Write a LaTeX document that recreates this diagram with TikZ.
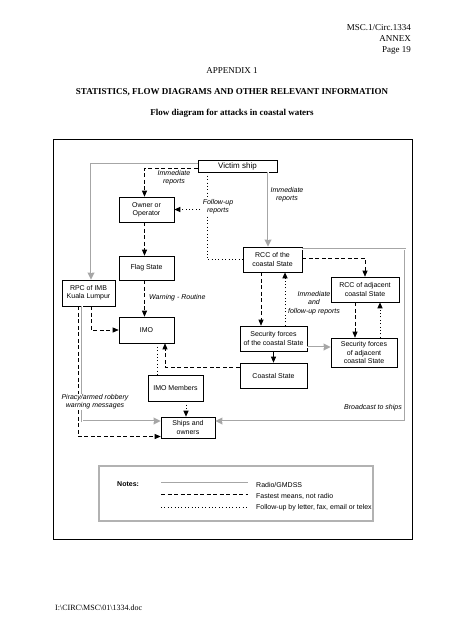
\documentclass[tikz,border=0pt]{standalone}
\usepackage{fontspec}
\setmainfont{Liberation Serif}
\newfontfamily\arialf{Liberation Sans}
\usetikzlibrary{arrows.meta}

\begin{document}
\begin{tikzpicture}[x=1pt,y=-1pt,
    caixa/.style={draw,line width=0.6pt,fill=white,align=center,inner sep=1pt,font=\arialf\fontsize{7}{8.2}\selectfont},
    rotulo/.style={align=center,inner sep=1pt,font=\arialf\itshape\fontsize{7}{8.2}\selectfont},
    radio/.style={draw=gray!70,line width=2pt,-{Triangle[length=7pt,width=6.5pt]},
        postaction={draw=white,line width=0.6pt,-,shorten >=7pt}},
    rapido/.style={line width=0.7pt,dash pattern=on 4pt off 2.5pt,-{Triangle[length=6pt,width=5pt]}},
    seguimento/.style={line width=1pt,dash pattern=on 1pt off 2.4pt,-{Triangle[length=6pt,width=5pt]}},
    texto/.style={inner sep=0pt,font=\fontsize{9}{11}\selectfont}]
    \useasboundingbox (0,0) rectangle (452,640);
    % Cabeçalho
    \node[texto,anchor=base east] (msc) at (411,30) {MSC.1/Circ.1334};
    \node[texto,anchor=base east] (annex) at (411,41) {ANNEX};
    \node[texto,anchor=base east] (pagina) at (411,52) {Page 19};
    \node[texto,anchor=base] (apendice) at (232,73) {APPENDIX 1};
    \node[texto,anchor=base,font=\bfseries\fontsize{9}{11}\selectfont] (titulo) at (232,94) {STATISTICS, FLOW DIAGRAMS AND OTHER RELEVANT INFORMATION};
    \node[texto,anchor=base,font=\bfseries\fontsize{9}{11}\selectfont] (subtitulo) at (232,115.5) {Flow diagram for attacks in coastal waters};
    \node[texto,anchor=base west,font=\fontsize{8}{10}\selectfont] (rodape) at (55,610) {I:\textbackslash CIRC\textbackslash MSC\textbackslash 01\textbackslash 1334.doc};
    % Molduras
    \draw[line width=0.8pt] (53,139) rectangle (412,539);
    \draw[gray!60,line width=1.2pt] (99,466) rectangle (373,521);
    % Caixas
    \node[caixa,minimum width=79pt,minimum height=12pt,font=\arialf\fontsize{8}{9}\selectfont] (victim) at (237.5,166) {Victim ship};
    \node[caixa,minimum width=55pt,minimum height=25pt] (owner) at (146.5,209.5) {Owner or\\Operator};
    \node[caixa,minimum width=55pt,minimum height=24pt] (flag) at (146.5,268) {Flag State};
    \node[caixa,minimum width=53pt,minimum height=26pt] (rpc) at (88.5,293) {RPC of IMB\\Kuala Lumpur};
    \node[caixa,minimum width=55pt,minimum height=26pt] (imo) at (146.5,330) {IMO};
    \node[caixa,minimum width=55pt,minimum height=26pt] (imom) at (175.5,388) {IMO Members};
    \node[caixa,minimum width=54pt,minimum height=21pt] (ships) at (188,427.5) {Ships and\\owners};
    \node[caixa,minimum width=59pt,minimum height=25pt] (rccc) at (272.5,259.5) {RCC of the\\coastal State};
    \node[caixa,minimum width=68pt,minimum height=25pt] (rcca) at (365,289.5) {RCC of adjacent\\coastal State};
    \node[caixa,minimum width=67pt,minimum height=25pt] (secc) at (273.5,338.5) {Security forces\\of the coastal State};
    \node[caixa,minimum width=66pt,minimum height=29pt] (seca) at (364,352.5) {Security forces\\of adjacent\\coastal State};
    \node[caixa,minimum width=67pt,minimum height=25pt] (coast) at (273.5,375.5) {Coastal State};
    % Pontos auxiliares
    \coordinate (v1) at ([xshift=30.5pt]victim.south);
    \coordinate (v2) at ([xshift=-30.5pt]victim.south);
    \coordinate (r1) at ([xshift=-11.5pt]rccc.south);
    \coordinate (r2) at ([xshift=12.5pt]rccc.south);
    \coordinate (a1) at ([xshift=-10pt]rcca.south);
    \coordinate (a2) at ([xshift=15pt]rcca.south);
    \coordinate (s1) at ([yshift=-8.5pt]secc.east);
    \coordinate (c1) at ([yshift=8.5pt]coast.west);
    \coordinate (c2) at ([xshift=18.5pt]imo.south);
    \coordinate (i1) at ([xshift=10.5pt]imo.south);
    \coordinate (m1) at ([xshift=10.5pt]imom.south);
    \coordinate (bc) at (405,421);
    % Radio/GMDSS
    \draw[radio] ([yshift=2pt]victim.west) -| ([xshift=2.5pt]rpc.north);
    \draw[radio] (v1) -- (v1 |- rccc.north);
    \draw[radio] ([xshift=-6.5pt]rpc.south) |- ([yshift=6.5pt]ships.west);
    \draw[radio] (s1) -- (s1 -| seca.west);
    \draw[radio] ([yshift=10.5pt]rccc.east) -| (bc) -- (bc -| ships.east);
    % Meios mais rápidos
    \draw[rapido] ([yshift=-2pt]victim.west) -| ([xshift=-2pt]owner.north);
    \draw[rapido] ([xshift=-2pt]owner.south) -- ([xshift=-2pt]flag.north);
    \draw[rapido] ([xshift=-2pt]flag.south) -- ([xshift=-2pt]imo.north);
    \draw[rapido] ([xshift=2.5pt]rpc.south) |- (imo.west);
    \draw[rapido] ([xshift=-10.5pt]rpc.south) |- ([yshift=-9pt]ships.west);
    \draw[rapido] (r1) -- (r1 |- secc.north);
    \draw[rapido] ([yshift=1.5pt]rccc.east) -| (rcca.north);
    \draw[rapido] (a1) -- (a1 |- seca.north);
    \draw[rapido] (c1) -| (c2);
    \draw[-{Triangle[length=6pt,width=5pt]},line width=0.7pt] (secc.south) -- (coast.north);
    % Seguimento
    \draw[seguimento,-] (v2) |- (rccc.west);
    \draw[seguimento] (v2 |- owner.east) -- (owner.east);
    \draw[seguimento] (r2 |- secc.north) -- (r2);
    \draw[seguimento] (a2 |- seca.north) -- (a2);
    \draw[seguimento,-] (i1) -- (i1 |- imom.north);
    \draw[seguimento] (m1) -- (m1 |- ships.north);
    % Rótulos
    \node[rotulo] (rimed) at (174,178) {Immediate\\reports};
    \node[rotulo,fill=white] (rseg) at (218,207) {Follow-up\\reports};
    \node[rotulo] (rimed2) at (287,195) {Immediate\\reports};
    \node[rotulo,anchor=west] (raviso) at (148,298) {Warning - Routine};
    \node[rotulo] (rambos) at (314,303) {Immediate\\and\\follow-up reports};
    \node[rotulo,fill=white] (rpirat) at (95,402) {Piracy/armed robbery\\warning messages};
    \node[rotulo,anchor=east] (rdifus) at (403,408) {Broadcast to ships};
    % Notas
    \node[anchor=west,inner sep=0pt,font=\arialf\bfseries\fontsize{7}{8}\selectfont] (notas) at (117,484) {Notes:};
    \coordinate (l1) at (161,483); \coordinate (l2) at (248,483);
    \coordinate (l3) at (161,494); \coordinate (l4) at (248,494);
    \coordinate (l5) at (161,507); \coordinate (l6) at (248,507);
    \draw[radio,-,postaction={draw=white,line width=0.6pt,shorten >=0pt}] (l1) -- (l2);
    \draw[rapido,-] (l3) -- (l4);
    \draw[seguimento,-] (l5) -- (l6);
    \node[anchor=west,inner sep=0pt,font=\arialf\fontsize{7}{8}\selectfont] (nradio) at (256,485) {Radio/GMDSS};
    \node[anchor=west,inner sep=0pt,font=\arialf\fontsize{7}{8}\selectfont] (nrapido) at (256,496) {Fastest means, not radio};
    \node[anchor=west,inner sep=0pt,font=\arialf\fontsize{7}{8}\selectfont] (nseg) at (256,508) {Follow-up by letter, fax, email or telex};
\end{tikzpicture}
\end{document}
